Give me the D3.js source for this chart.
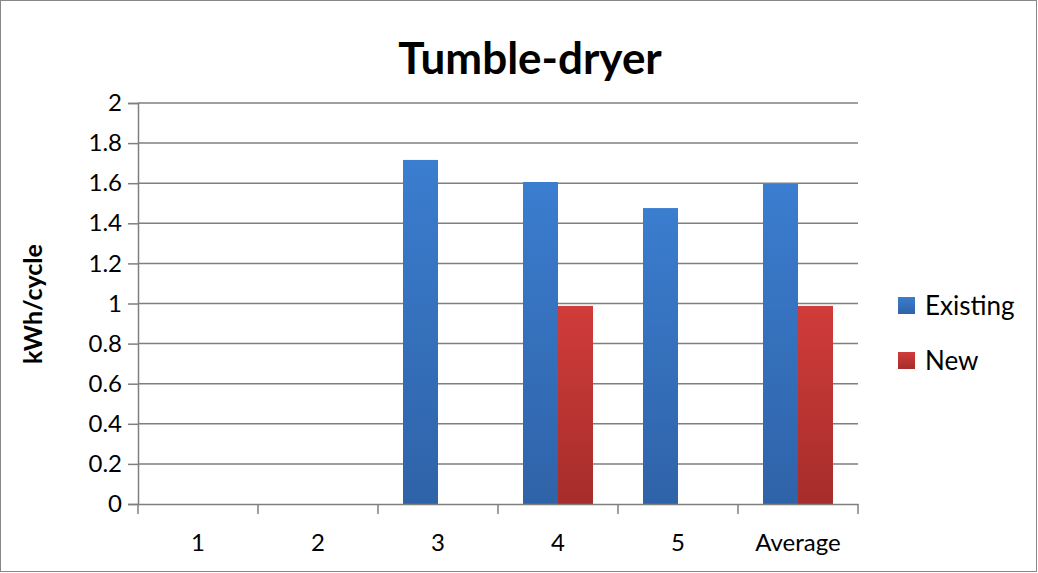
<!DOCTYPE html>
<html><head><meta charset="utf-8">
<script src="https://cdn.jsdelivr.net/npm/d3@7"></script>
<style>body{margin:0;background:#fff;font-family:Lato,"Open Sans",sans-serif;}</style>
</head><body>
<script>
// chart data
const categories = ['1', '2', '3', '4', '5', 'Average'];
const existing = [null, null, 1.716, 1.606, 1.476, 1.596];
const newer = [null, null, null, 0.988, null, 0.988];
const yTicks = [0, 0.2, 0.4, 0.6, 0.8, 1, 1.2, 1.4, 1.6, 1.8, 2];
const seriesNames = ['Existing', 'New'];

const W = 1038, H = 573;
const svg = d3.select('body').append('svg').attr('width', W).attr('height', H);

const defs = svg.append('defs');
const grads = [['gExist', '#3b7dcf', '#2f63a8'], ['gNew', '#d03c3a', '#a62d2b']];
grads.forEach(([id, a, b]) => {
  const g = defs.append('linearGradient').attr('id', id).attr('x1', 0).attr('x2', 0).attr('y1', 0).attr('y2', 1);
  g.append('stop').attr('offset', 0).attr('stop-color', a);
  g.append('stop').attr('offset', 1).attr('stop-color', b);
});

svg.append('rect').attr('x', 0.5).attr('y', 0.5).attr('width', W - 2).attr('height', H - 2)
  .attr('fill', 'none').attr('stroke', '#888');

const x = d3.scaleBand().domain(categories).range([138, 858]);
const inner = d3.scaleBand().domain(seriesNames).range([25, 95]);
const y = d3.scaleLinear().domain([0, 2]).range([504, 103]);

// gridlines
svg.append('g').selectAll('line').data(yTicks.slice(1)).join('line')
  .attr('x1', 138).attr('x2', 858).attr('y1', d => y(d)).attr('y2', d => y(d))
  .attr('stroke', '#7f7f7f').attr('stroke-width', 1.5);

// bars
const series = [existing, newer];
series.forEach((vals, si) => {
  svg.append('g').selectAll('rect').data(categories.map((c, i) => ({c, v: vals[i]})).filter(d => d.v != null))
    .join('rect')
    .attr('x', d => x(d.c) + inner(seriesNames[si]))
    .attr('width', inner.bandwidth())
    .attr('y', d => y(d.v))
    .attr('height', d => y(0) - y(d.v))
    .attr('fill', si === 0 ? 'url(#gExist)' : 'url(#gNew)');
});

// y axis
const yAxis = svg.append('g').attr('transform', 'translate(138,0)')
  .call(d3.axisLeft(y).tickValues(yTicks).tickSize(10).tickPadding(6).tickFormat(d3.format('')));
yAxis.selectAll('text').attr('font-size', 24).attr('fill', '#000').attr('font-family', 'Lato');
yAxis.selectAll('line,path').attr('stroke', '#7f7f7f').attr('stroke-width', 1.5);

// x axis
const xAxis = svg.append('g').attr('transform', `translate(0,${y(0)})`)
  .call(d3.axisBottom(x).tickSize(0).tickPadding(30));
xAxis.selectAll('text').attr('font-size', 24).attr('fill', '#000').attr('font-family', 'Lato');
xAxis.select('path').attr('stroke', '#7f7f7f').attr('stroke-width', 1.5);
xAxis.selectAll('.sep').data(categories.concat(['end'])).join('line').attr('class', 'sep')
  .attr('x1', (d, i) => 138 + i * x.step()).attr('x2', (d, i) => 138 + i * x.step())
  .attr('y1', 0).attr('y2', 10).attr('stroke', '#7f7f7f').attr('stroke-width', 1.5);

// title
svg.append('text').attr('x', 530).attr('y', 74).attr('text-anchor', 'middle')
  .attr('font-size', 44).attr('font-weight', 'bold').text('Tumble-dryer');

// y label
svg.append('text').attr('transform', 'translate(42,304) rotate(-90)').attr('text-anchor', 'middle')
  .attr('font-size', 25).attr('font-weight', 'bold').text('kWh/cycle');

// legend
const lg = svg.append('g').selectAll('g').data(seriesNames).join('g')
  .attr('transform', (d, i) => `translate(898,${297 + i * 55})`);
lg.append('rect').attr('width', 17).attr('height', 17)
  .attr('fill', (d, i) => i === 0 ? 'url(#gExist)' : 'url(#gNew)');
lg.append('text').attr('x', 27).attr('y', 18).attr('font-size', 26).text(d => d);
</script>
</body></html>
